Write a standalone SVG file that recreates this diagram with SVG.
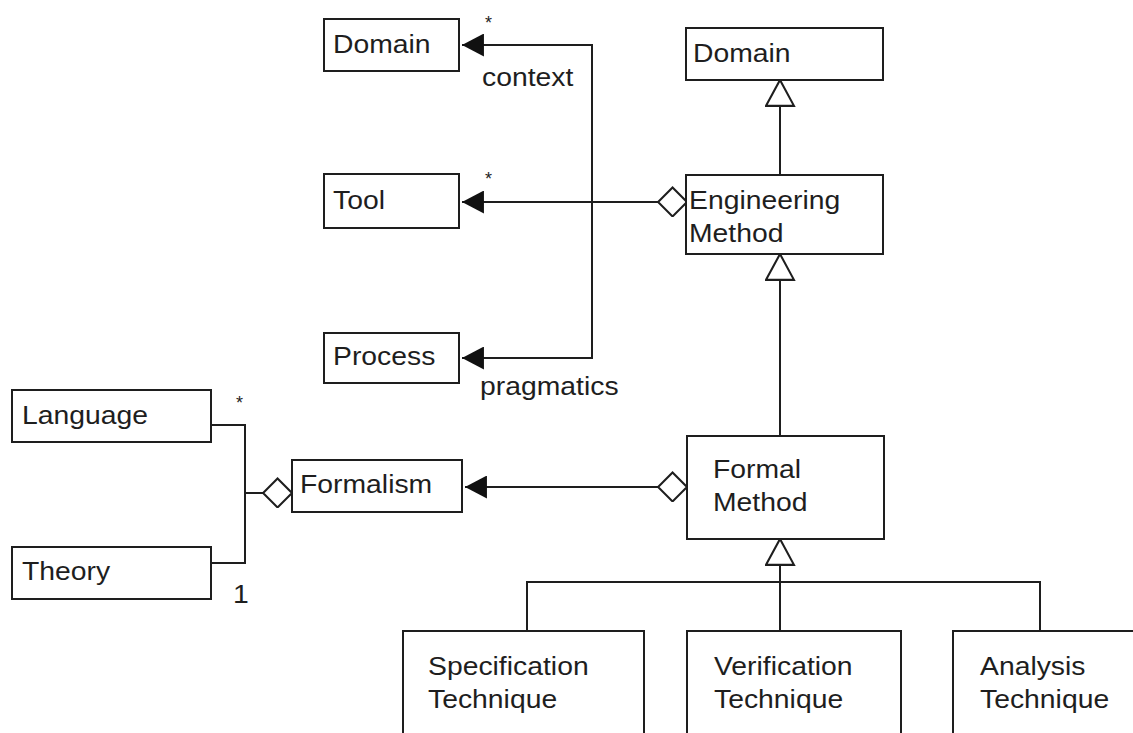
<svg xmlns="http://www.w3.org/2000/svg" width="1133" height="733" viewBox="0 0 1133 733">
<defs>
<style>
.box{fill:#fff;stroke:#1e1e1e;stroke-width:2}
.ln{fill:none;stroke:#1e1e1e;stroke-width:2}
text{font-family:"Liberation Sans",Arial,sans-serif;font-size:26px;fill:#1e1e1e}
text.star{font-size:18px}
</style>
<marker id="arrow" markerUnits="userSpaceOnUse" markerWidth="22" markerHeight="23" viewBox="0 0 21 22" refX="21" refY="11" orient="auto">
<path d="M0,0 L21,11 L0,22 z" fill="#111"/>
</marker>
<marker id="gen" markerUnits="userSpaceOnUse" markerWidth="30" markerHeight="32" viewBox="-1 -1 29 30" refX="25" refY="13.5" orient="auto">
<path d="M0,0 L25,13.5 L0,27 z" fill="#fff" stroke="#1e1e1e" stroke-width="2"/>
</marker>
<marker id="dia" markerUnits="userSpaceOnUse" markerWidth="32" markerHeight="32" viewBox="-1 -1 31 31" refX="0" refY="14" orient="auto">
<path d="M0,14 L14,0 L28,14 L14,28 z" fill="#fff" stroke="#1e1e1e" stroke-width="2"/>
</marker>
</defs>
<rect width="1133" height="733" fill="#fff"/>
<g id="connectors">
<path class="ln" d="M592,200 V45 H462" marker-end="url(#arrow)"/>
<path class="ln" d="M592,200 V358 H462" marker-end="url(#arrow)"/>
<path class="ln" d="M687,202 H462" marker-start="url(#dia)" marker-end="url(#arrow)"/>
<path class="ln" d="M687,487 H465" marker-start="url(#dia)" marker-end="url(#arrow)"/>
<path class="ln" d="M211,425 H245 V563 H211"/>
<path class="ln" d="M292,493 H245" marker-start="url(#dia)"/>
<path class="ln" d="M780,175 V80" marker-end="url(#gen)"/>
<path class="ln" d="M780,436 V254" marker-end="url(#gen)"/>
<path class="ln" d="M780,631 V539" marker-end="url(#gen)"/>
<path class="ln" d="M527,631 V582 H1040 V631"/>
<text class="star" x="485" y="29">*</text>
<text class="star" x="485" y="185">*</text>
<text transform="translate(482,86) scale(1.09,1)">context</text>
<text transform="translate(480,395) scale(1.09,1)">pragmatics</text>
<text class="star" x="236" y="409">*</text>
<text transform="translate(233,603) scale(1.09,1)">1</text>
</g>
<g id="domain-left"><rect class="box" x="324" y="19" width="135" height="52"/><text transform="translate(333,53) scale(1.09,1)">Domain</text></g>
<g id="tool"><rect class="box" x="324" y="174" width="135" height="54"/><text transform="translate(333,209) scale(1.09,1)">Tool</text></g>
<g id="process"><rect class="box" x="324" y="333" width="135" height="50"/><text transform="translate(333,365) scale(1.09,1)">Process</text></g>
<g id="domain-right"><rect class="box" x="686" y="28" width="197" height="52"/><text transform="translate(693,62) scale(1.09,1)">Domain</text></g>
<g id="engineering-method"><rect class="box" x="686" y="175" width="197" height="79"/><text transform="translate(689,209) scale(1.09,1)">Engineering</text><text transform="translate(689,242) scale(1.09,1)">Method</text></g>
<g id="formal-method"><rect class="box" x="687" y="436" width="197" height="103"/><text transform="translate(713,478) scale(1.09,1)">Formal</text><text transform="translate(713,511) scale(1.09,1)">Method</text></g>
<g id="language"><rect class="box" x="12" y="390" width="199" height="52"/><text transform="translate(22,424) scale(1.09,1)">Language</text></g>
<g id="theory"><rect class="box" x="12" y="547" width="199" height="52"/><text transform="translate(22,580) scale(1.09,1)">Theory</text></g>
<g id="formalism"><rect class="box" x="292" y="460" width="170" height="52"/><text transform="translate(300,493) scale(1.09,1)">Formalism</text></g>
<g id="specification-technique"><rect class="box" x="403" y="631" width="241" height="120"/><text transform="translate(428,675) scale(1.09,1)">Specification</text><text transform="translate(428,708) scale(1.09,1)">Technique</text></g>
<g id="verification-technique"><rect class="box" x="687" y="631" width="214" height="120"/><text transform="translate(714,675) scale(1.09,1)">Verification</text><text transform="translate(714,708) scale(1.09,1)">Technique</text></g>
<g id="analysis-technique"><rect class="box" x="953" y="631" width="200" height="120"/><text transform="translate(980,675) scale(1.09,1)">Analysis</text><text transform="translate(980,708) scale(1.09,1)">Technique</text></g>
</svg>
